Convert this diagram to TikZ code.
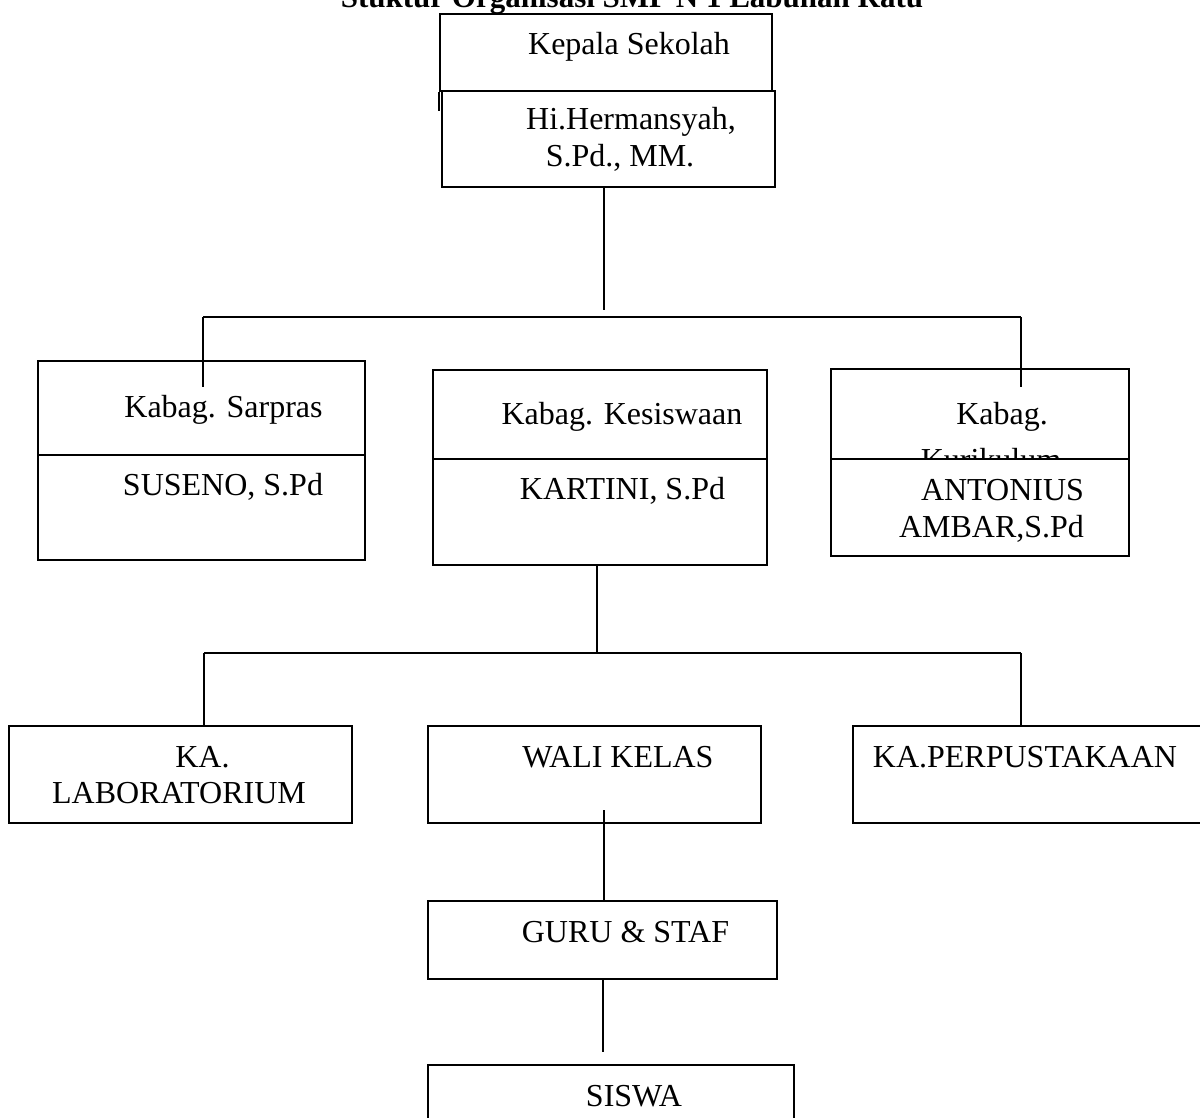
\documentclass[tikz,border=0pt]{standalone}
\usepackage{fontspec}
\setmainfont{Liberation Serif}
\begin{document}
\begin{tikzpicture}[x=1pt,y=-1pt,
  box/.style={draw, line width=1.6pt, fill=white, inner sep=0pt, rectangle},
  conn/.style={line width=1.4pt},
  txt/.style={anchor=base, inner sep=0pt, font=\fontsize{32}{38}\selectfont},
  ttl/.style={anchor=base, inner sep=0pt, font=\fontsize{31}{36}\selectfont\bfseries}]
\useasboundingbox (0,0) rectangle (1200,1118);
\clip (0,0) rectangle (1200,1118);
\fill[white] (0,0) rectangle (1200,1118);

\node[ttl] (title) at (632,8) {Stuktur Organisasi SMP N 1 Labuhan Ratu};

% head
\node[box, minimum width=332pt, minimum height=77pt] (kepala) at (606,52.5) {};
\draw[line width=1.6pt] (kepala.south west) -- ++(0,19) coordinate (kover);
\node[txt] (tkepala) at (629,55) {Kepala Sekolah};
\node[box, minimum width=333pt, minimum height=96pt] (herman) at (608.5,139) {};
\node[txt] (therman1) at (631,130) {Hi.Hermansyah,};
\node[txt] (therman2) at (620,167) {S.Pd., MM.};

% second row
\node[box, minimum width=327pt, minimum height=94pt] (sarU) at (201.5,408) {};
\node[txt] (tsarU) at (223.5,417) {Kabag. Sarpras};
\node[box, minimum width=327pt, minimum height=105pt] (sarL) at (201.5,507.5) {};
\node[txt] (tsarL) at (223,495) {SUSENO, S.Pd};

\node[box, minimum width=334pt, minimum height=89pt] (kesU) at (600,414.5) {};
\node[txt] (tkesU) at (622,424) {Kabag. Kesiswaan};
\node[box, minimum width=334pt, minimum height=106pt] (kesL) at (600,512) {};
\node[txt] (tkesL) at (622.5,499) {KARTINI, S.Pd};

\node[box, minimum width=298pt, minimum height=90pt] (kurU) at (980,414) {};
\node[txt] (tkurU1) at (1002,424) {Kabag.};
\node[txt] (tkurU2) at (991,470) {Kurikulum};
\node[box, minimum width=298pt, minimum height=97pt] (kurL) at (980,507.5) {};
\node[txt] (tkurL1) at (1002.5,500) {ANTONIUS};
\node[txt] (tkurL2) at (991.5,537) {AMBAR,S.Pd};

% third row
\node[box, minimum width=343pt, minimum height=97pt] (lab) at (180.5,774.5) {};
\node[txt] (tlab1) at (202.5,767) {KA.};
\node[txt] (tlab2) at (179,803) {LABORATORIUM};
\node[box, minimum width=333pt, minimum height=97pt] (wali) at (594.5,774.5) {};
\node[txt] (twali) at (618,767) {WALI KELAS};
\node[box, minimum width=362pt, minimum height=97pt] (perpus) at (1034,774.5) {};
\node[txt] (tperpus) at (1025,767) {KA.PERPUSTAKAAN};

% lower
\node[box, minimum width=349pt, minimum height=78pt] (guru) at (602.5,940) {};
\node[txt] (tguru) at (625.5,942) {GURU \& STAF};
\node[box, minimum width=366pt, minimum height=75pt] (siswa) at (611,1102.5) {};
\node[txt] (tsiswa) at (634,1106) {SISWA};

% connectors
\coordinate (a1) at (604,310);
\coordinate (b1L) at (203,317);
\coordinate (b1R) at (1021,317);
\coordinate (s1L) at (203,387);
\coordinate (s1R) at (1021,387);
\draw[conn] (a1 |- herman.south) -- (a1);
\draw[conn] (b1L) -- (b1R);
\draw[conn] (b1L) -- (s1L);
\draw[conn] (b1R) -- (s1R);

\coordinate (a2) at (597,653);
\coordinate (b2L) at (204,653);
\coordinate (b2R) at (1021,653);
\draw[conn] (a2 |- kesL.south) -- (a2);
\draw[conn] (b2L) -- (b2R);
\draw[conn] (b2L) -- (b2L |- lab.north);
\draw[conn] (b2R) -- (b2R |- perpus.north);

\coordinate (w1) at (604,810);
\draw[conn] (w1) -- (w1 |- guru.north);
\coordinate (g1) at (603,1052);
\draw[conn] (g1 |- guru.south) -- (g1);
\end{tikzpicture}
\end{document}
